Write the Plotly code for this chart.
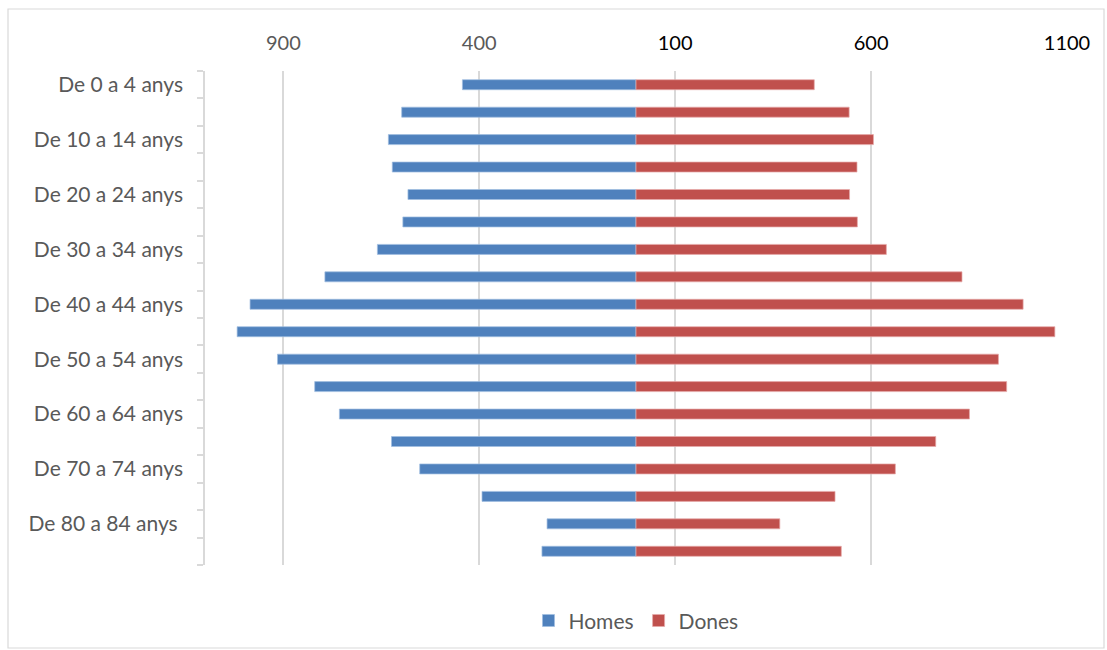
import plotly.graph_objects as go

# Age groups, top to bottom
age_groups = [
    "De 0 a 4 anys", "De 5 a 9 anys", "De 10 a 14 anys", "De 15 a 19 anys",
    "De 20 a 24 anys", "De 25 a 29 anys", "De 30 a 34 anys", "De 35 a 39 anys",
    "De 40 a 44 anys", "De 45 a 49 anys", "De 50 a 54 anys", "De 55 a 59 anys",
    "De 60 a 64 anys", "De 65 a 69 anys", "De 70 a 74 anys", "De 75 a 79 anys",
    "De 80 a 84 anys", "De 85 anys i més",
]

homes = [443, 598, 632, 622, 582, 595, 660, 794, 985, 1018,
         915, 820, 757, 624, 552, 393, 227, 240]
dones = [455, 544, 606, 564, 545, 565, 639, 832, 988, 1069,
         925, 946, 851, 765, 662, 508, 367, 524]

# Axis ticks (left side shown as absolute values)
x_tickvals = [-900, -400, 100, 600, 1100]
x_ticklabels = ["900", "400", "100", "600", "1100"]

# Only every other age group gets a label
y_ticklabels = [g if i % 2 == 0 else "" for i, g in enumerate(age_groups)]
y_ticklabels[16] = "De 80 a 84 anys\u00a0"

BLUE = "#4F81BD"
RED = "#C0504D"
GREY_TXT = "#595959"
GRID = "#D9D9D9"
FONT = "Lato, Open Sans, Liberation Sans, sans-serif"

fig = go.Figure()
fig.add_trace(go.Bar(
    y=age_groups, x=[-v for v in homes], orientation="h", name="Homes",
    marker=dict(color=BLUE, line=dict(color="rgba(160,190,225,0.9)", width=0.8)),
))
fig.add_trace(go.Bar(
    y=age_groups, x=dones, orientation="h", name="Dones",
    marker=dict(color=RED, line=dict(color="rgba(230,170,170,0.9)", width=0.8)),
))

x_ticktext = [
    f'<span style="color:{GREY_TXT}">{t}</span>' if v < 0 else t
    for v, t in zip(x_tickvals, x_ticklabels)
]

fig.update_layout(
    width=1107, height=650,
    margin=dict(l=205, r=40, t=71, b=85, autoexpand=False),
    paper_bgcolor="white", plot_bgcolor="white",
    barmode="overlay", bargap=0.635,
    font=dict(family=FONT, size=21, color=GREY_TXT),
    showlegend=True,
    legend=dict(
        orientation="h", x=0.5, xanchor="center", y=-0.113, yanchor="middle",
        font=dict(size=21, color=GREY_TXT), traceorder="normal",
        itemwidth=30, tracegroupgap=0,
    ),
    xaxis=dict(
        side="top", range=[-1100, 1100],
        tickvals=x_tickvals, ticktext=x_ticktext,
        tickfont=dict(size=20, color="black"),
        showgrid=True, gridcolor=GRID, gridwidth=1.5,
        zeroline=False, showline=False, ticks="",
        ticklabelstandoff=16,
    ),
    yaxis=dict(
        type="category", autorange="reversed",
        tickvals=age_groups, ticktext=y_ticklabels,
        tickson="boundaries", ticks="outside", ticklen=6, tickcolor=GRID,
        tickwidth=1.5,
        showline=True, linecolor=GRID, linewidth=1.5,
        showgrid=False, zeroline=False,
        tickfont=dict(size=21, color=GREY_TXT),
        ticklabelstandoff=16,
    ),
    shapes=[dict(
        type="rect", xref="paper", yref="paper",
        x0=(8 - 205) / 862, x1=(1104 - 205) / 862,
        y0=(565 - 648) / 494, y1=(565 - 9) / 494,
        line=dict(color=GRID, width=1.2), fillcolor="rgba(0,0,0,0)",
        layer="below",
    )],
)

fig.write_html("out.html")
